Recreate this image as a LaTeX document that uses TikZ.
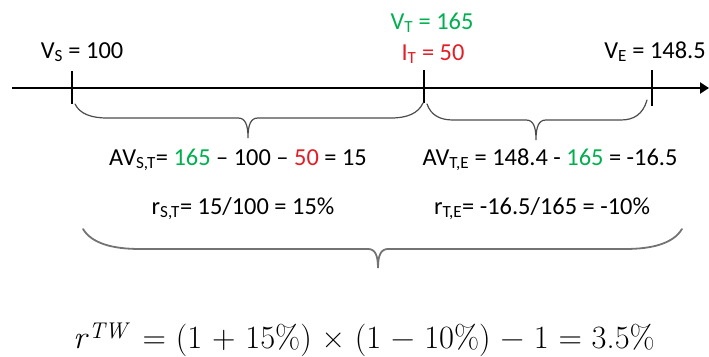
\documentclass[tikz,border=0pt]{standalone}
\usepackage[no-math]{fontspec}
\setmainfont{Carlito}
\newfontfamily\formulafont{Latin Modern Roman}
\usepackage{xcolor}
\usepackage{tikz}
\usetikzlibrary{positioning,arrows.meta}

\definecolor{vgreen}{RGB}{0,176,80}
\definecolor{ired}{RGB}{226,30,38}
\newcommand{\idx}[1]{\textsubscript{#1}}
% brace: [style] x1 y1 x2 y2 xmid ylevel ytip width-of-end-curl
\newcommand{\officebrace}[9][]{%
  \draw[#1] (#2,#3) .. controls ({#2+0.15*#9},{#3+0.7*(#7-#3)}) and ({#2+0.5*#9},#7) .. ({#2+#9},#7)
    -- ({#6-10},#7) .. controls ({#6-3},#7) and (#6,{#7+6}) .. (#6,#8)
    .. controls (#6,{#7+6}) and ({#6+3},#7) .. ({#6+10},#7)
    -- ({#4-#9},#7) .. controls ({#4-0.5*#9},#7) and ({#4-0.15*#9},{#5+0.7*(#7-#5)}) .. (#4,#5);}

\begin{document}
\begin{tikzpicture}[x=1pt,y=-1pt,
  txt/.style={inner sep=0pt,anchor=base,font=\fontsize{24.4}{28}\selectfont},
  axis/.style={line width=2.6pt,-{Triangle[length=9pt,width=11pt]}},
  tick/.style={line width=2.8pt},
  brace/.style={line width=1.2pt,draw=black!70,line cap=round},
  bigbrace/.style={line width=1.8pt,draw=black!55,line cap=round}]
  \useasboundingbox (0,0) rectangle (709,356);

  \coordinate (O) at (12,88);
  \coordinate (X) at (709,88);
  \coordinate (S) at (72,88);
  \coordinate (T) at (424,88);
  \coordinate (E) at (652,88);

  \draw[axis] (O) -- (X);
  \draw[tick] (S) ++(0,-17) -- ++(0,33);
  \draw[tick] (T) ++(0,-18) -- ++(0,33);
  \draw[tick] (E) ++(0,-18) -- ++(0,36);

  \officebrace[brace]{75}{104}{423}{103}{248}{118}{138}{32}
  \officebrace[brace]{427}{104}{647}{100}{536}{120}{140}{26}
  \officebrace[bigbrace]{83}{229}{682}{229}{378}{249}{268}{57}

  \node[txt] (vs) at (82,58) {V\idx{S} = 100};
  \node[txt,text=vgreen] (vt) at (432,29) {V\idx{T} = 165};
  \node[txt,text=ired] (it) at (433,60) {I\idx{T} = 50};
  \node[txt] (ve) at (655,58) {V\idx{E} = 148.5};

  \node[txt] (avst) at (238,165) {AV\idx{S,T}= \textcolor{vgreen}{165} – 100 – \textcolor{ired}{50} = 15};
  \node[txt] (avte) at (550,165) {AV\idx{T,E} = 148.4 - \textcolor{vgreen}{165} = -16.5};
  \node[txt] (rst) at (243,214) {r\idx{S,T}= 15/100 = 15\%};
  \node[txt] (rte) at (542,214) {r\idx{T,E}= -16.5/165 = -10\%};

  \node[inner sep=0pt,anchor=base,font=\formulafont\fontsize{32.5}{39}\selectfont] (rtw) at (364,348)
    {\textit{r}\textsuperscript{\itshape TW}\, = (1 + 15\%) × (1 − 10\%) − 1 = 3.5\%};
\end{tikzpicture}
\end{document}
